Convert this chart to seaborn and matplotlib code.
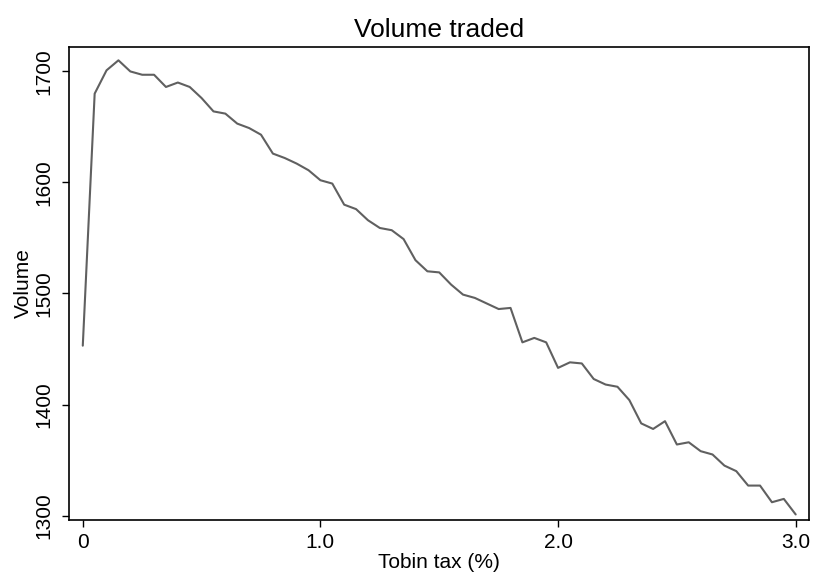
import numpy as np
import pandas as pd
from matplotlib import pyplot as plt
import seaborn as sns

# 数据：Tobin tax (%) 与成交量
tax = [round(0.05 * i, 2) for i in range(61)]
volume = [1453, 1680, 1701, 1710, 1700, 1697, 1697, 1686, 1690, 1686,
          1676, 1664, 1662, 1653, 1649, 1643, 1626, 1622, 1617, 1611,
          1602, 1599, 1580, 1576, 1566, 1559, 1557, 1549, 1530, 1520,
          1519, 1508, 1499, 1496, 1491, 1486, 1487, 1456, 1460, 1456,
          1433, 1438, 1437, 1423, 1418, 1416, 1404, 1383, 1378, 1385,
          1364, 1366, 1358, 1355, 1345, 1340, 1327, 1327, 1312, 1315,
          1301]
xticks = [0, 1, 2, 3]
xticklabels = ['0', '1.0', '2.0', '3.0']
yticks = [1300, 1400, 1500, 1600, 1700]

df = pd.DataFrame({'tax': tax, 'volume': volume})

sns.set_style('white')
plt.rcParams['font.family'] = ['Liberation Sans', 'DejaVu Sans']
plt.rcParams['text.color'] = 'black'
plt.rcParams['axes.labelcolor'] = 'black'

fig = plt.figure(figsize=(8.13, 5.76), dpi=100)
ax = fig.add_axes([69 / 813, 1 - 520 / 576, (809 - 69) / 813, (520 - 47) / 576])

sns.lineplot(data=df, x='tax', y='volume', ax=ax, color='#606060', linewidth=1.5)

ax.set_xlim(-0.058, 3.056)
ax.set_ylim(1296, 1722)
ax.set_xticks(xticks)
ax.set_xticklabels(xticklabels)
ax.set_yticks(yticks)
ax.set_yticklabels([str(v) for v in yticks], rotation=90, va='center')
ax.tick_params(axis='both', direction='out', length=5, width=1, colors='black',
               labelsize=15, left=True, bottom=True)
ax.tick_params(axis='x', pad=4)
ax.tick_params(axis='y', pad=6)
for s in ax.spines.values():
    s.set_color('black')
    s.set_linewidth(1.2)

ax.set_xlabel('Tobin tax (%)', fontsize=15, labelpad=1)
ax.set_ylabel('Volume', fontsize=15, labelpad=1)
ax.set_title('Volume traded', fontsize=19, pad=7)

fig.savefig('out.png', dpi=100)
